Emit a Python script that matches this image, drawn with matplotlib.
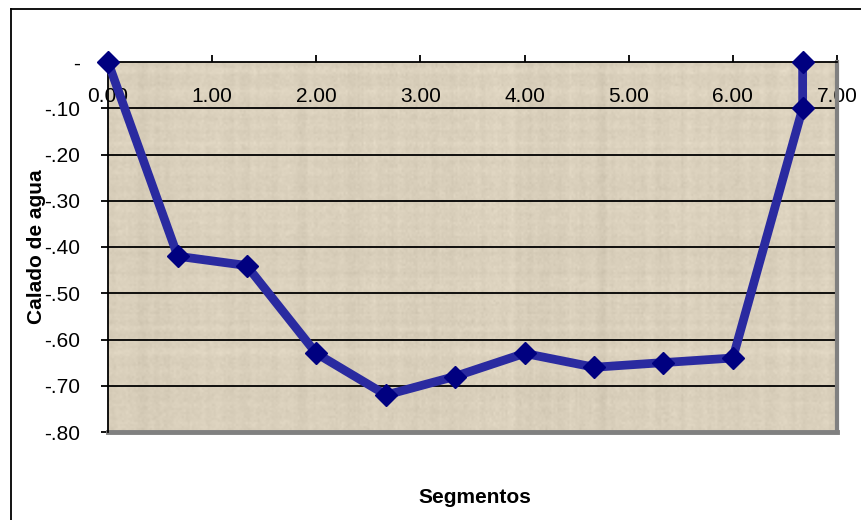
import numpy as np
import matplotlib.pyplot as plt
from matplotlib.lines import Line2D

plt.rcParams['font.family'] = ['Liberation Sans', 'DejaVu Sans']

# ----------[data]----------
segmentos = [0.0, 0.67, 1.33, 2.0, 2.67, 3.33, 4.0, 4.67, 5.33, 6.0, 6.67, 6.67]
calado = [0.0, -0.42, -0.44, -0.63, -0.72, -0.68, -0.63, -0.66, -0.65, -0.64, -0.10, 0.0]

x_ticks = [0, 1, 2, 3, 4, 5, 6, 7]
y_ticks = [0.0, -0.1, -0.2, -0.3, -0.4, -0.5, -0.6, -0.7, -0.8]
y_labels = ['-', '-.10', '-.20', '-.30', '-.40', '-.50', '-.60', '-.70', '-.80']

# ----------[figure]----------
fig = plt.figure(figsize=(8.61, 5.20), dpi=100)
ax = fig.add_axes([108/861, 1 - 432/520, 729/861, 370/520])

# parchment-like background texture (decoration only)
rng = np.random.default_rng(7)
h, w = 185, 365
cols = np.convolve(rng.normal(0, 1, w + 4), np.ones(3)/3, mode='same')[2:-2]
rows = np.convolve(rng.normal(0, 1, h + 4), np.ones(3)/3, mode='same')[2:-2]
noise = 0.5*cols[None, :] + 0.5*rows[:, None] + 0.35*rng.normal(0, 1, (h, w))
base = np.array([219, 209, 189]) / 255
tex = base[None, None, :] + 0.03*noise[:, :, None]
ax.imshow(np.clip(tex, 0, 1), extent=[0, 7, -0.8, 0], aspect='auto',
          interpolation='bilinear', zorder=0)

ax.set_xlim(0, 7)
ax.set_ylim(-0.8, 0)

for yv in y_ticks[1:]:
    ax.axhline(yv, color='black', lw=1.3, zorder=1)

ax.plot(segmentos, calado, color='#2a2aa0', lw=6.3, zorder=3,
        solid_joinstyle='round', clip_on=False)
ax.plot(segmentos, calado, ls='none', marker='D', ms=11, color='#000080',
        zorder=4, clip_on=False)

# axes / spines
ax.spines['bottom'].set_position(('data', 0))
ax.spines['bottom'].set_linewidth(1.3)
ax.spines['left'].set_linewidth(1.3)
ax.spines['top'].set_visible(False)
ax.spines['right'].set_color('#808080')
ax.spines['right'].set_linewidth(3)
ax.axhline(-0.8, color='#808080', lw=3.5, zorder=2, clip_on=False)

ax.set_xticks(x_ticks)
ax.set_xticklabels([f'{v:.2f}' for v in x_ticks])
ax.set_yticks(y_ticks)
ax.set_yticklabels(y_labels)
ax.tick_params(axis='x', direction='in', length=5, width=1.3, pad=18,
               labelsize=15)
ax.tick_params(axis='y', direction='out', length=5, width=1.3, pad=15,
               labelsize=15)
for t in ax.get_xticklabels():
    t.set_zorder(5)

ax.set_ylabel('Calado de agua', fontsize=15, fontweight='bold')
ax.yaxis.set_label_coords(-0.085, 0.5)
ax.set_xlabel('Segmentos', fontsize=15, fontweight='bold')
ax.xaxis.set_label_coords(0.503, -0.152)

# outer chart frame
x0 = 10.5/861
y0 = 1 - 8.5/520
fig.add_artist(Line2D([x0, x0], [0, y0], color='black', lw=1.3))
fig.add_artist(Line2D([x0, 1], [y0, y0], color='black', lw=1.3))

fig.savefig('out.png', dpi=100)
